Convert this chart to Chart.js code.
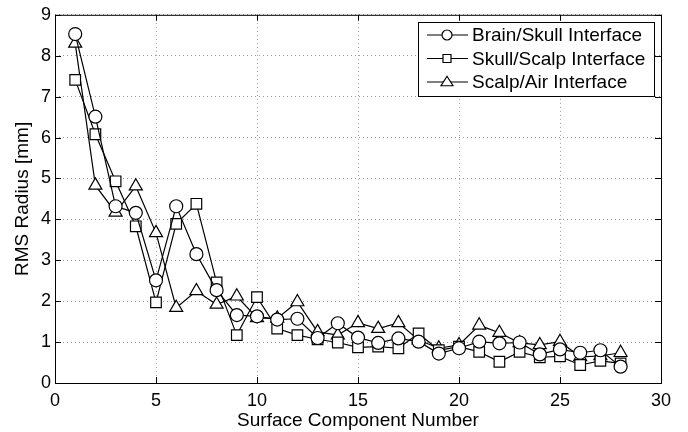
<!DOCTYPE html>
<html lang="en">
<head>
  <meta charset="UTF-8">
  <title>RMS Radius vs Surface Component Number</title>
  <script src="https://cdn.jsdelivr.net/npm/chart.js"></script>
  <style>
    html, body { margin: 0; padding: 0; background: #fff; }
    #wrap { width: 688px; height: 432px; }
  </style>
</head>
<body>
  <div id="wrap"><canvas id="rmsChart" width="688" height="432"></canvas></div>
  <script>
    // component index along x
    const components = [1, 2, 3, 4, 5, 6, 7, 8, 9, 10, 11, 12, 13, 14, 15, 16, 17, 18, 19, 20, 21, 22, 23, 24, 25, 26, 27, 28];

    // RMS radius [mm]
    const brainSkull = [8.53, 6.51, 4.32, 4.16, 2.51, 4.32, 3.15, 2.27, 1.66, 1.63, 1.55, 1.57, 1.10, 1.46, 1.11, 0.98, 1.09, 1.01, 0.72, 0.85, 1.01, 0.97, 0.99, 0.70, 0.82, 0.74, 0.80, 0.40];
    const skullScalp = [7.41, 6.08, 4.93, 3.83, 1.97, 3.89, 4.38, 2.46, 1.17, 2.10, 1.33, 1.17, 1.07, 0.99, 0.87, 0.89, 0.85, 1.21, 0.80, 0.89, 0.76, 0.52, 0.76, 0.63, 0.65, 0.44, 0.54, 0.48];
    const scalpAir   = [8.30, 4.83, 4.17, 4.81, 3.67, 1.84, 2.25, 1.92, 2.12, 1.59, 1.58, 1.98, 1.25, 1.17, 1.47, 1.33, 1.47, 1.05, 0.85, 0.93, 1.41, 1.23, 0.98, 0.93, 1.01, 0.64, 0.66, 0.74];

    const seriesNames = ['Brain/Skull Interface', 'Skull/Scalp Interface', 'Scalp/Air Interface'];
    const seriesMarkers = ['circle', 'rect', 'triangle'];

    const FONT = '"Liberation Sans", Arial, sans-serif';

    function toPoints(vals) {
      return vals.map((v, i) => ({ x: components[i], y: v }));
    }

    function makeDataset(i, vals) {
      const r = seriesMarkers[i] === 'circle' ? 6.5 : 7.5;
      return {
        label: seriesNames[i],
        data: toPoints(vals),
        borderColor: '#000',
        borderWidth: 1.2,
        pointStyle: seriesMarkers[i],
        pointRadius: r,
        pointHoverRadius: r,
        pointBackgroundColor: '#fff',
        pointBorderColor: '#000',
        pointBorderWidth: 1.2,
        tension: 0,
        fill: false
      };
    }

    // small marker drawer for the legend
    function drawMarker(ctx, style, x, y, r) {
      ctx.beginPath();
      if (style === 'circle') {
        ctx.arc(x, y, r, 0, Math.PI * 2);
      } else if (style === 'rect') {
        ctx.rect(x - r * 0.8, y - r * 0.8, r * 1.6, r * 1.6);
      } else {
        ctx.moveTo(x, y - r * 1.15);
        ctx.lineTo(x + r * 1.2, y + r * 0.75);
        ctx.lineTo(x - r * 1.2, y + r * 0.75);
        ctx.closePath();
      }
      ctx.fillStyle = '#fff';
      ctx.fill();
      ctx.stroke();
    }

    // box round the plot with inward tick marks, plus matlab-like legend
    const framePlugin = {
      id: 'frame',
      afterDraw(chart) {
        const ctx = chart.ctx;
        const a = chart.chartArea;
        const xs = chart.scales.x, ys = chart.scales.y;
        ctx.save();
        ctx.strokeStyle = '#000';
        ctx.lineWidth = 1;
        ctx.strokeRect(a.left + 0.5, a.top + 0.5, a.right - a.left, a.bottom - a.top);
        const tl = 6;
        ctx.beginPath();
        xs.ticks.forEach(t => {
          const px = Math.round(xs.getPixelForValue(t.value)) + 0.5;
          ctx.moveTo(px, a.bottom); ctx.lineTo(px, a.bottom - tl);
          ctx.moveTo(px, a.top); ctx.lineTo(px, a.top + tl);
        });
        ys.ticks.forEach(t => {
          const py = Math.round(ys.getPixelForValue(t.value)) + 0.5;
          ctx.moveTo(a.left, py); ctx.lineTo(a.left + tl, py);
          ctx.moveTo(a.right, py); ctx.lineTo(a.right - tl, py);
        });
        ctx.stroke();

        // legend
        const lx = 418, ly = 22, lw = 236, lh = 74;
        ctx.fillStyle = '#fff';
        ctx.fillRect(lx, ly, lw, lh);
        ctx.strokeRect(lx + 0.5, ly + 0.5, lw, lh);
        ctx.font = '19px ' + FONT;
        ctx.textBaseline = 'middle';
        chart.data.datasets.forEach((ds, i) => {
          const y = ly + 13 + i * 23.5;
          ctx.lineWidth = 1.2;
          ctx.strokeStyle = '#000';
          ctx.beginPath();
          ctx.moveTo(lx + 9, y); ctx.lineTo(lx + 50, y);
          ctx.stroke();
          drawMarker(ctx, ds.pointStyle, lx + 29, y, 5);
          ctx.fillStyle = '#000';
          ctx.fillText(ds.label, lx + 54, y + 1);
        });
        ctx.restore();
      }
    };

    const ctx = document.getElementById('rmsChart').getContext('2d');
    new Chart(ctx, {
      type: 'line',
      data: {
        datasets: [
          makeDataset(0, brainSkull),
          makeDataset(1, skullScalp),
          makeDataset(2, scalpAir)
        ]
      },
      options: {
        responsive: false,
        animation: false,
        events: [],
        layout: { padding: { top: 14, right: 27, left: 0, bottom: 0 } },
        plugins: {
          legend: { display: false },
          tooltip: { enabled: false }
        },
        scales: {
          x: {
            type: 'linear',
            min: 0,
            max: 30,
            afterFit(scale) { scale.height = 49; },
            grid: { color: '#9a9a9a', lineWidth: 1, drawTicks: false },
            border: { display: false, dash: [1, 3] },
            ticks: { stepSize: 5, color: '#000', font: { family: FONT, size: 18 }, padding: 7 },
            title: {
              display: true,
              text: 'Surface Component Number',
              color: '#000',
              font: { family: FONT, size: 19 },
              padding: { top: 0, bottom: 0 }
            }
          },
          y: {
            type: 'linear',
            min: 0,
            max: 9,
            afterFit(scale) { scale.width = 55; },
            grid: { color: '#9a9a9a', lineWidth: 1, drawTicks: false },
            border: { display: false, dash: [1, 3] },
            ticks: { stepSize: 1, color: '#000', font: { family: FONT, size: 18 }, padding: 4 },
            title: {
              display: true,
              text: 'RMS Radius [mm]',
              color: '#000',
              font: { family: FONT, size: 19 },
              padding: { top: 11, bottom: 0 }
            }
          }
        }
      },
      plugins: [framePlugin]
    });
  </script>
</body>
</html>
